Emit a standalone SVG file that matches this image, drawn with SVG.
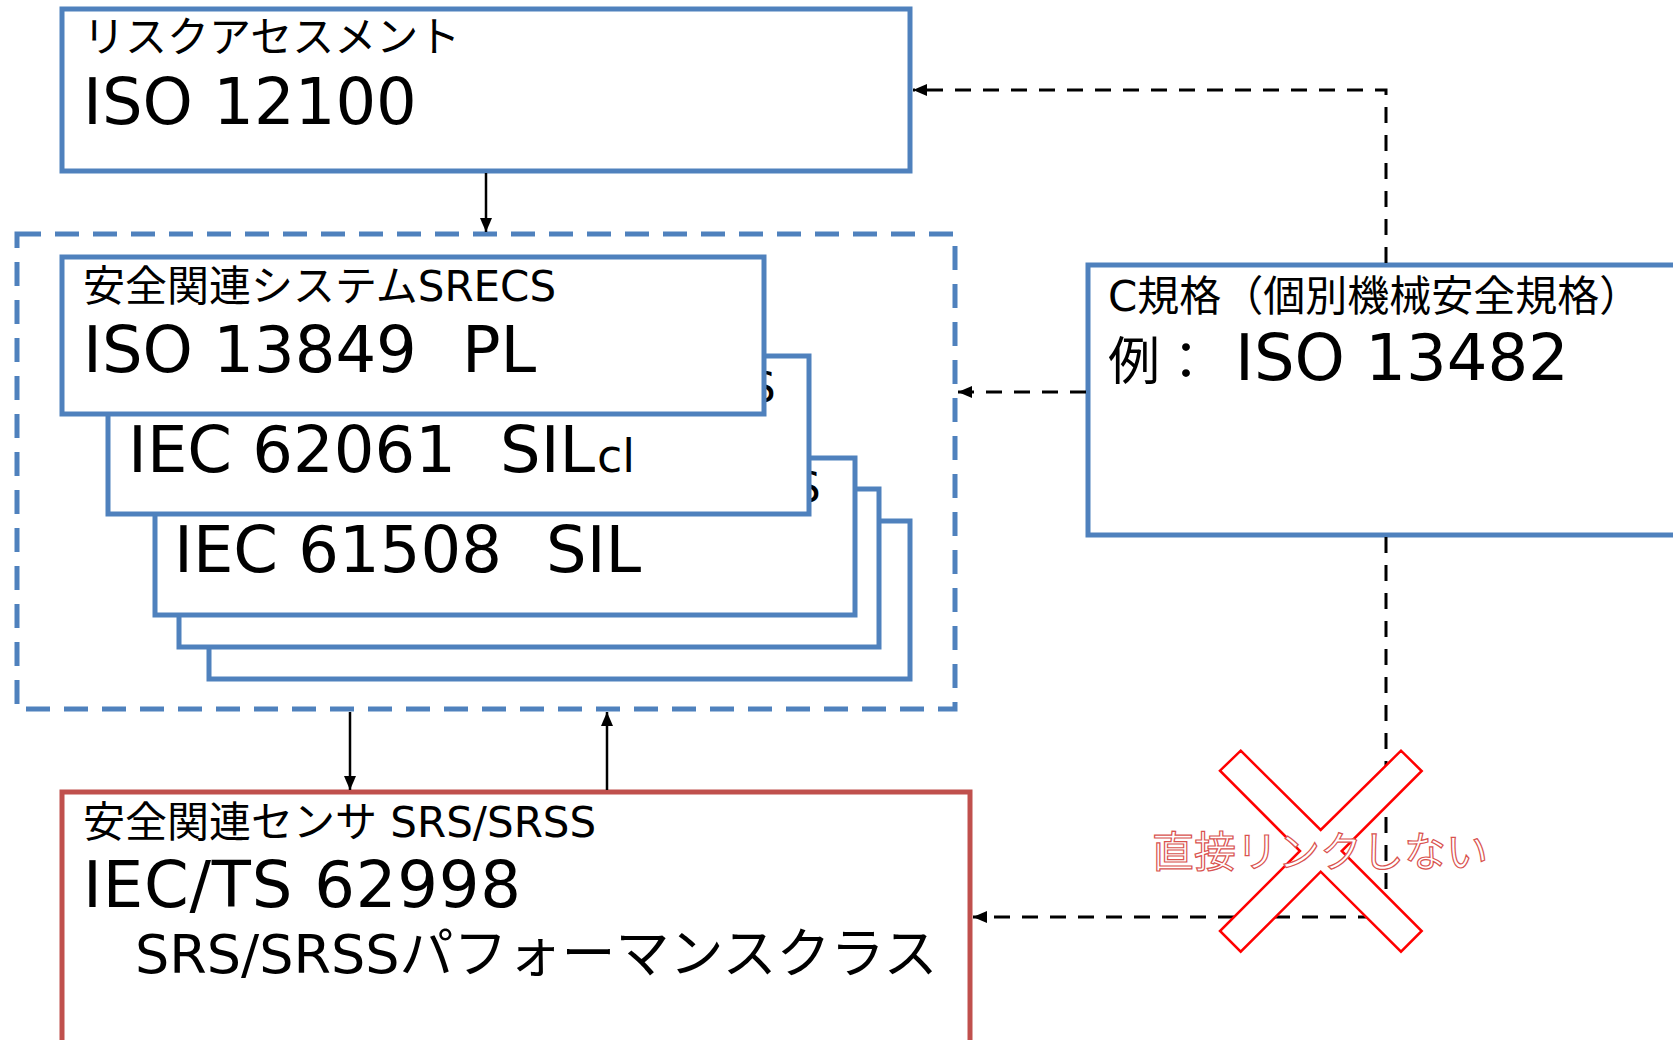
<svg xmlns="http://www.w3.org/2000/svg" width="1673" height="1040" viewBox="0 0 1673 1040">
<defs>
<style>
.box{fill:#fff;stroke:#4F81BD;stroke-width:5}
.rbox{fill:#fff;stroke:#C0504D;stroke-width:5}
.cont{fill:none;stroke:#4F81BD;stroke-width:5;stroke-dasharray:24 14}
.t{font-family:"DejaVu Sans","Noto Sans CJK JP",sans-serif;fill:#000}
.s{font-size:42px}
.l{font-size:64px}
.solid{fill:none;stroke:#000;stroke-width:2.5}
.dash{fill:none;stroke:#000;stroke-width:3;stroke-dasharray:16 12}
.x{fill:#fff;stroke:#FF0000;stroke-width:2.5}
.nl{font-family:"Noto Sans CJK JP","DejaVu Sans",sans-serif;font-size:42px;fill:#fff;stroke:#D9534F;stroke-width:1.2}
</style>
<marker id="ah" markerUnits="userSpaceOnUse" markerWidth="14" markerHeight="12" refX="14" refY="6" orient="auto">
<path d="M0,0 L14,6 L0,12 z" fill="#000"/>
</marker>
</defs>
<rect width="1673" height="1040" fill="#fff"/>

<g id="risk-assessment">
<rect class="box" x="62" y="9" width="848" height="162"/>
<text class="t s" x="83" y="52">リスクアセスメント</text>
<text class="t l" x="83" y="124">ISO 12100</text>
</g>

<g id="srecs-group">
<rect class="cont" x="17" y="234" width="938" height="475"/>
</g>

<g id="box5">
<rect class="box" x="209" y="521" width="701" height="158"/>
</g>
<g id="box4">
<rect class="box" x="179" y="489" width="700" height="158"/>
</g>
<g id="iec61508">
<rect class="box" x="155" y="458" width="700" height="157"/>
<text class="t s" x="794" y="502">S</text>
<text class="t l" x="174" y="572">IEC 61508</text>
<text class="t l" x="546" y="572">SIL</text>
</g>
<g id="iec62061">
<rect class="box" x="108" y="356" width="701" height="158"/>
<text class="t s" x="749" y="402">S</text>
<text class="t l" x="128" y="472">IEC 62061</text>
<text class="t l" x="500" y="472">SIL</text>
<text class="t" font-size="46" x="597" y="472">cl</text>
</g>
<g id="iso13849">
<rect class="box" x="62" y="257" width="702" height="157"/>
<text class="t s" x="83" y="301">安全関連システムSRECS</text>
<text class="t l" x="83" y="372">ISO 13849</text>
<text class="t l" x="462" y="372">PL</text>
</g>

<g id="c-standard">
<rect class="box" x="1088" y="265" width="600" height="270"/>
<text class="t s" x="1108" y="311">C規格（個別機械安全規格）</text>
<text class="t" font-size="52" x="1108" y="380">例：</text>
<text class="t l" x="1235" y="380">ISO 13482</text>
</g>

<g id="sensor">
<rect class="rbox" x="62" y="792" width="908" height="260"/>
<text class="t s" x="83" y="837">安全関連センサ SRS/SRSS</text>
<text class="t l" x="83" y="907" letter-spacing="0.8">IEC/TS 62998</text>
<text class="t" font-size="54" x="135" y="973">SRS/SRSSパフォーマンスクラス</text>
</g>

<g id="connectors">
<path class="solid" d="M486 173 V232" marker-end="url(#ah)"/>
<path class="dash" d="M1386 263 V90 H913" marker-end="url(#ah)"/>
<path class="dash" d="M1086 392 H958" marker-end="url(#ah)"/>
<path class="dash" d="M1386 537 V917 H973" marker-end="url(#ah)"/>
<path class="solid" d="M350 712 V790" marker-end="url(#ah)"/>
<path class="solid" d="M607 790 V712" marker-end="url(#ah)"/>
</g>

<g id="no-direct-link">
<polygon class="x" points="1240.7,750.7 1320.7,830 1401,750.7 1421.7,771 1341.7,851 1421.7,931 1401,951.7 1320.7,871.7 1240.7,951.7 1220,931 1300,851 1220,770.7"/>
<text class="nl" x="1152" y="867">直接リンクしない</text>
</g>
</svg>
